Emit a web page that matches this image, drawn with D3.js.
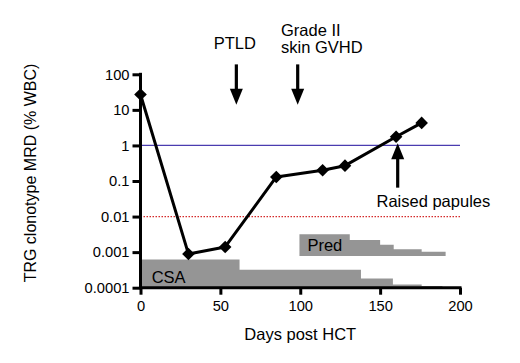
<!DOCTYPE html>
<html>
<head>
<meta charset="utf-8">
<script src="https://cdn.jsdelivr.net/npm/d3@7"></script>
<style>
  html, body { margin: 0; padding: 0; background: #fff; }
  svg { display: block; font-family: "Liberation Sans", Arial, sans-serif; }
</style>
</head>
<body>
<svg id="chart" width="520" height="363"></svg>
<script>
// MRD measurements
const days   = [0, 30, 53, 85, 114, 128, 160, 176];
const mrd    = [27, 0.00089, 0.0014, 0.13, 0.2, 0.27, 1.75, 4.3];

// CSA dosing steps (step start day, level), last entry closes the step
const csaDays  = [0, 62, 138, 158, 176, 189];
const csaLevel = [0.00062, 0.00032, 0.00018, 0.000124, 0.000111, 0.000111];

// Pred dosing steps
const predDays  = [99.5, 131, 150, 158.5, 176, 191];
const predLevel = [0.0032, 0.0022, 0.0016, 0.0012, 0.00103, 0.00103];
const predBase  = 0.00078;

// reference lines
const blueLevel = 1;
const redLevel  = 0.01;

// tick labels
const xTicks = [0, 50, 100, 150, 200];
const yTicks = [0.0001, 0.001, 0.01, 0.1, 1, 10, 100];
const yLabels = ['0.0001', '0.001', '0.01', '0.1', '1', '10', '100'];

// event arrows
const events = [
  { day: 60,  from: 190, to: 14,   lines: ['PTLD'],                 dir: 'down' },
  { day: 98.4, from: 190, to: 14,  lines: ['Grade II', 'skin GVHD'], dir: 'down' },
  { day: 161, from: 0.065, to: 1.15, lines: ['Raised papules'],    dir: 'up' }
];

const svg = d3.select('#chart');

const x = d3.scaleLinear().domain([0, 200]).range([140.5, 460]);
const y = d3.scaleLog().domain([0.0001, 100]).range([287.7, 74.3]);

const grey = '#959595';

// CSA area
const csaPts = csaDays.map((d, i) => ({ d: d, v: csaLevel[i] }));
svg.append('path')
  .attr('d', d3.area().curve(d3.curveStepAfter)
    .x(p => x(p.d)).y0(y(0.0001)).y1(p => y(p.v))(csaPts))
  .style('fill', grey);

// Pred area
const predPts = predDays.map((d, i) => ({ d: d, v: predLevel[i] }));
svg.append('path')
  .attr('d', d3.area().curve(d3.curveStepAfter)
    .x(p => x(p.d)).y0(y(predBase)).y1(p => y(p.v))(predPts))
  .style('fill', grey);

svg.append('text')
  .attr('x', x(7)).attr('y', 282.5)
  .style('font-size', '16.5px')
  .text('CSA');

svg.append('text')
  .attr('x', x(104.5)).attr('y', 251)
  .style('font-size', '16.5px')
  .text('Pred');

// reference lines
svg.append('line')
  .attr('x1', x(0)).attr('x2', x(200))
  .attr('y1', y(blueLevel)).attr('y2', y(blueLevel))
  .style('stroke', '#4a3cb0').style('stroke-width', 1.3);

svg.append('line')
  .attr('x1', x(0)).attr('x2', x(200))
  .attr('y1', y(redLevel)).attr('y2', y(redLevel))
  .style('stroke', '#d42a2a').style('stroke-width', 1.2)
  .style('stroke-dasharray', '1.5,1.5');

// axes
const xAxis = d3.axisBottom(x).tickValues(xTicks).tickSize(7).tickPadding(4);
const yAxis = d3.axisLeft(y).tickValues(yTicks).tickSize(8).tickPadding(3)
  .tickFormat((d, i) => yLabels[i]);

const gx = svg.append('g')
  .attr('transform', `translate(0,${y(0.0001)})`)
  .call(xAxis);
const gy = svg.append('g')
  .attr('transform', `translate(${x(0)},0)`)
  .call(yAxis);

[gx, gy].forEach(g => {
  g.select('.domain').attr('d', null);
  g.selectAll('.tick line').style('stroke', '#000').style('stroke-width', 3);
  g.selectAll('.tick text')
    .style('font-size', '14.7px')
    .style('font-family', '"Liberation Sans", Arial, sans-serif')
    .style('fill', '#000');
});
gx.selectAll('.tick text').attr('dy', '0.85em');

svg.append('line')
  .attr('x1', x(0) - 1.5).attr('x2', x(200) + 1.5)
  .attr('y1', y(0.0001)).attr('y2', y(0.0001))
  .style('stroke', '#000').style('stroke-width', 3);
svg.append('line')
  .attr('x1', x(0)).attr('x2', x(0))
  .attr('y1', y(100) - 1.5).attr('y2', y(0.0001))
  .style('stroke', '#000').style('stroke-width', 3);

// axis titles
svg.append('text')
  .attr('x', x(100)).attr('y', 340)
  .style('text-anchor', 'middle')
  .style('font-size', '16.5px')
  .text('Days post HCT');

svg.append('text')
  .attr('transform', 'translate(35.5,173) rotate(-90)')
  .style('text-anchor', 'middle')
  .style('font-size', '16px')
  .text('TRG clonotype MRD (% WBC)');

// MRD line + markers
const pts = days.map((d, i) => ({ d: d, v: mrd[i] }));
svg.append('path')
  .attr('d', d3.line().x(p => x(p.d)).y(p => y(p.v))(pts))
  .style('fill', 'none').style('stroke', '#000').style('stroke-width', 3)
  .style('stroke-linejoin', 'round');

svg.selectAll('.marker')
  .data(pts)
  .enter().append('path')
    .attr('class', 'marker')
    .attr('transform', p => `translate(${x(p.d)},${y(p.v)})`)
    .attr('d', 'M0,-6.3L6.3,0L0,6.3L-6.3,0Z')
    .style('fill', '#000');

// event arrows
events.forEach(ev => {
  const ax = x(ev.day);
  const y0 = y(ev.from), y1 = y(ev.to);
  const s = ev.dir === 'down' ? 1 : -1;
  svg.append('line')
    .attr('x1', ax).attr('x2', ax)
    .attr('y1', y0).attr('y2', y1 - s * 12)
    .style('stroke', '#000').style('stroke-width', 3.2);
  svg.append('path')
    .attr('d', `M${ax - 6.5},${y1 - s * 16}L${ax + 6.5},${y1 - s * 16}L${ax},${y1}Z`)
    .style('fill', '#000');
});

// event labels
svg.append('text')
  .attr('x', x(events[0].day) - 1.5).attr('y', 49.3)
  .style('text-anchor', 'middle').style('font-size', '16.5px')
  .text(events[0].lines[0]);

const g2 = svg.append('text')
  .attr('x', 281).attr('y', 35.7)
  .style('font-size', '16.5px');
g2.append('tspan').attr('x', 281).text(events[1].lines[0]);
g2.append('tspan').attr('x', 281).attr('dy', 17).text(events[1].lines[1]);

svg.append('text')
  .attr('x', 376.5).attr('y', 206.5)
  .style('font-size', '16.5px')
  .text(events[2].lines[0]);
</script>
</body>
</html>
